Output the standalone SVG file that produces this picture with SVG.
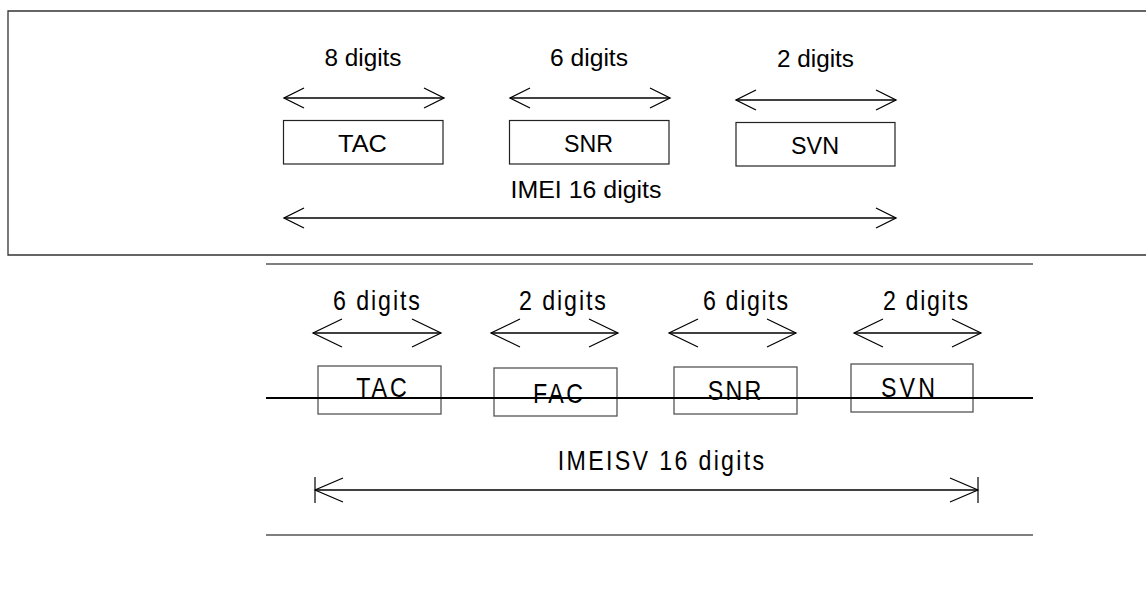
<svg xmlns="http://www.w3.org/2000/svg" width="1146" height="616" viewBox="0 0 1146 616">
  <style>
    .frame { fill: none; stroke: #333; stroke-width: 1.3; }
    .rule { fill: none; stroke: #555; stroke-width: 1.6; }
    .strike { fill: none; stroke: #000; stroke-width: 2.2; }
    .box { fill: none; stroke: #222; stroke-width: 1.2; }
    .box2 { fill: none; stroke: #555; stroke-width: 1.3; }
    .dim { fill: none; stroke: #000; stroke-width: 1.3; }
    .t1 { font-family: "Liberation Sans", Arial, sans-serif; font-size: 23.5px; fill: #000; text-anchor: middle; }
    .t2 { font-family: "Liberation Sans", Arial, sans-serif; font-size: 27px; fill: #000; text-anchor: middle; }
  </style>
  <defs>
    <marker id="chev-s" viewBox="-22 -12 24 24" markerWidth="24" markerHeight="24" refX="0" refY="0" markerUnits="userSpaceOnUse" orient="auto-start-reverse">
      <path d="M -20 -10 L 0 0 L -20 10" fill="none" stroke="#000" stroke-width="1.3"/>
    </marker>
    <marker id="chev-l" viewBox="-31 -16 33 32" markerWidth="33" markerHeight="32" refX="0" refY="0" markerUnits="userSpaceOnUse" orient="auto-start-reverse">
      <path d="M -29 -14 L 0 0 L -29 14" fill="none" stroke="#000" stroke-width="1.2"/>
    </marker>
    <marker id="chev-bar" viewBox="-30 -15 32 30" markerWidth="32" markerHeight="30" refX="0" refY="0" markerUnits="userSpaceOnUse" orient="auto-start-reverse">
      <path d="M -28 -12 L 0 0 L -28 12 M 0 -13 V 13" fill="none" stroke="#000" stroke-width="1.2"/>
    </marker>
  </defs>

  <!-- IMEI panel frame (open on the right) -->
  <path class="frame" d="M 1150 11 H 8 V 255 H 1150"/>

  <!-- IMEISV panel rules -->
  <line class="rule" x1="266" y1="264" x2="1033" y2="264"/>
  <line class="rule" x1="266" y1="535" x2="1033" y2="535"/>

  <!-- IMEI fields -->
  <g id="imei-tac">
    <text class="t1" x="363" y="66" textLength="77" lengthAdjust="spacingAndGlyphs">8 digits</text>
    <rect class="box" x="283.5" y="120.5" width="159.5" height="43.5"/>
    <text class="t1" x="362.5" y="151.5" textLength="49" lengthAdjust="spacingAndGlyphs">TAC</text>
  </g>
  <g id="imei-snr">
    <text class="t1" x="589" y="66" textLength="78" lengthAdjust="spacingAndGlyphs">6 digits</text>
    <rect class="box" x="509.5" y="120.5" width="159.5" height="43.5"/>
    <text class="t1" x="588.5" y="151.5" textLength="49" lengthAdjust="spacingAndGlyphs">SNR</text>
  </g>
  <g id="imei-svn">
    <text class="t1" x="815.5" y="67" textLength="77" lengthAdjust="spacingAndGlyphs">2 digits</text>
    <rect class="box" x="736" y="122.5" width="159" height="43.5"/>
    <text class="t1" x="815" y="153.5" textLength="48" lengthAdjust="spacingAndGlyphs">SVN</text>
  </g>
  <g id="imei-total">
    <text class="t1" x="586" y="198" textLength="151" lengthAdjust="spacingAndGlyphs">IMEI 16 digits</text>
  </g>

  <!-- IMEISV fields: narrow, letter-spaced lettering -->
  <g id="imeisv-tac">
    <text class="t2" transform="translate(376.5 310) scale(0.86 1)" textLength="101" lengthAdjust="spacing">6 digits</text>
    <rect class="box2" x="318" y="366" width="123" height="48"/>
    <text class="t2" transform="translate(381.5 397) scale(0.86 1)" textLength="59" lengthAdjust="spacing">TAC</text>
  </g>
  <g id="imeisv-fac">
    <text class="t2" transform="translate(562.5 310) scale(0.86 1)" textLength="101" lengthAdjust="spacing">2 digits</text>
    <rect class="box2" x="494" y="368" width="123" height="48"/>
    <text class="t2" transform="translate(558 403) scale(0.86 1)" textLength="58" lengthAdjust="spacing">FAC</text>
  </g>
  <g id="imeisv-snr">
    <text class="t2" transform="translate(745.5 310) scale(0.86 1)" textLength="99" lengthAdjust="spacing">6 digits</text>
    <rect class="box2" x="674" y="367" width="123" height="47"/>
    <text class="t2" transform="translate(734.5 400) scale(0.86 1)" textLength="62" lengthAdjust="spacing">SNR</text>
  </g>
  <g id="imeisv-svn">
    <text class="t2" transform="translate(925.5 310) scale(0.86 1)" textLength="99" lengthAdjust="spacing">2 digits</text>
    <rect class="box2" x="851" y="364" width="122" height="48"/>
    <text class="t2" transform="translate(908 397) scale(0.86 1)" textLength="63" lengthAdjust="spacing">SVN</text>
  </g>
  <g id="imeisv-total">
    <text class="t2" transform="translate(661 470) scale(0.86 1)" textLength="240" lengthAdjust="spacing">IMEISV 16 digits</text>
  </g>

  <!-- line through the IMEISV field boxes -->
  <line class="strike" x1="266" y1="398" x2="1033" y2="398"/>

  <!-- dimension arrows -->
  <g id="connectors">
    <line class="dim" x1="284" y1="98" x2="444" y2="98" marker-start="url(#chev-s)" marker-end="url(#chev-s)"/>
    <line class="dim" x1="510" y1="98" x2="670" y2="98" marker-start="url(#chev-s)" marker-end="url(#chev-s)"/>
    <line class="dim" x1="736" y1="100" x2="896" y2="100" marker-start="url(#chev-s)" marker-end="url(#chev-s)"/>
    <line class="dim" x1="284" y1="218" x2="896" y2="218" marker-start="url(#chev-s)" marker-end="url(#chev-s)"/>

    <line class="dim" x1="313" y1="333" x2="441" y2="333" marker-start="url(#chev-l)" marker-end="url(#chev-l)"/>
    <line class="dim" x1="491" y1="333" x2="618" y2="333" marker-start="url(#chev-l)" marker-end="url(#chev-l)"/>
    <line class="dim" x1="669" y1="333" x2="796" y2="333" marker-start="url(#chev-l)" marker-end="url(#chev-l)"/>
    <line class="dim" x1="854" y1="333" x2="981" y2="333" marker-start="url(#chev-l)" marker-end="url(#chev-l)"/>

    <line class="dim" x1="315" y1="490" x2="978" y2="490" marker-start="url(#chev-bar)" marker-end="url(#chev-bar)"/>
  </g>
</svg>
